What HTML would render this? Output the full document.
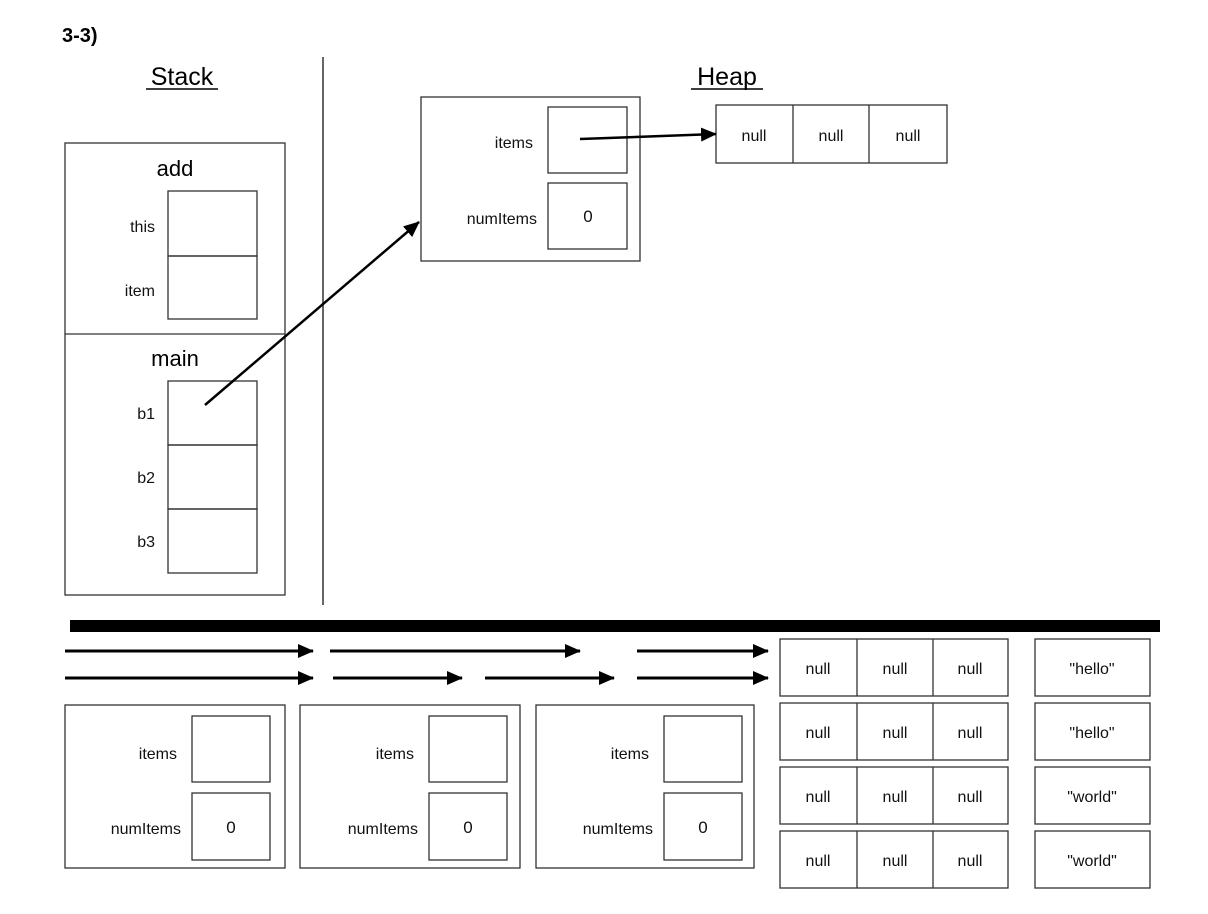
<!DOCTYPE html>
<html><head><style>body{margin:0;background:#fff}svg{display:block}</style></head><body>
<svg width="1208" height="914" xmlns="http://www.w3.org/2000/svg" font-family="Liberation Sans, Arial, sans-serif">
<defs>
<marker id="b" markerWidth="16" markerHeight="14" refX="15" refY="7" orient="auto" markerUnits="userSpaceOnUse"><path d="M0,0 L16,7 L0,14 z" fill="#000"/></marker></defs>
<text x="62" y="42" font-size="20" font-weight="bold">3-3)</text>
<text x="182" y="85" font-size="25" text-anchor="middle">Stack</text>
<line x1="146" y1="89" x2="218" y2="89" stroke="#000" stroke-width="1.5"/>
<text x="727" y="85" font-size="25" text-anchor="middle">Heap</text>
<line x1="691" y1="89" x2="763" y2="89" stroke="#000" stroke-width="1.5"/>
<line x1="323" y1="57" x2="323" y2="605" stroke="#333" stroke-width="1.5"/>
<g fill="none" stroke="#333" stroke-width="1.3">
<rect x="65" y="143" width="220" height="452"/><line x1="65" y1="334" x2="285" y2="334"/>
<rect x="168" y="191" width="89" height="65"/><rect x="168" y="256" width="89" height="63"/>
<rect x="168" y="381" width="89" height="64"/><rect x="168" y="445" width="89" height="64"/><rect x="168" y="509" width="89" height="64"/>
<rect x="421" y="97" width="219" height="164"/><rect x="548" y="107" width="79" height="66"/><rect x="548" y="183" width="79" height="66"/>
<rect x="716" y="105" width="231" height="58"/><line x1="793" y1="105" x2="793" y2="163"/><line x1="869" y1="105" x2="869" y2="163"/>
<rect x="65" y="705" width="220" height="163"/><rect x="192" y="716" width="78" height="66"/><rect x="192" y="793" width="78" height="67"/>
<rect x="300" y="705" width="220" height="163"/><rect x="429" y="716" width="78" height="66"/><rect x="429" y="793" width="78" height="67"/>
<rect x="536" y="705" width="218" height="163"/><rect x="664" y="716" width="78" height="66"/><rect x="664" y="793" width="78" height="67"/>
<rect x="780" y="639" width="228" height="57"/><rect x="780" y="703" width="228" height="57"/><rect x="780" y="767" width="228" height="57"/><rect x="780" y="831" width="228" height="57"/>
<line x1="857" y1="639" x2="857" y2="696"/><line x1="933" y1="639" x2="933" y2="696"/>
<line x1="857" y1="703" x2="857" y2="760"/><line x1="933" y1="703" x2="933" y2="760"/>
<line x1="857" y1="767" x2="857" y2="824"/><line x1="933" y1="767" x2="933" y2="824"/>
<line x1="857" y1="831" x2="857" y2="888"/><line x1="933" y1="831" x2="933" y2="888"/>
<rect x="1035" y="639" width="115" height="57"/><rect x="1035" y="703" width="115" height="57"/><rect x="1035" y="767" width="115" height="57"/><rect x="1035" y="831" width="115" height="57"/>
</g>
<g font-size="22" text-anchor="middle"><text x="175" y="176">add</text><text x="175" y="366">main</text></g>
<g font-size="16" text-anchor="end" fill="#111">
<text x="155" y="232">this</text><text x="155" y="296">item</text>
<text x="155" y="419">b1</text><text x="155" y="483">b2</text><text x="155" y="547">b3</text>
<text x="533" y="148">items</text><text x="537" y="224">numItems</text>
<text x="177" y="759">items</text><text x="181" y="834">numItems</text>
<text x="414" y="759">items</text><text x="418" y="834">numItems</text>
<text x="649" y="759">items</text><text x="653" y="834">numItems</text>
</g>
<g font-size="17" text-anchor="middle" fill="#111">
<text x="588" y="222">0</text><text x="231" y="833">0</text><text x="468" y="833">0</text><text x="703" y="833">0</text>
</g>
<g font-size="16" text-anchor="middle" fill="#111">
<text x="754" y="141">null</text><text x="831" y="141">null</text><text x="908" y="141">null</text>
<text x="818" y="674">null</text><text x="895" y="674">null</text><text x="970" y="674">null</text><text x="1092" y="674">"hello"</text>
<text x="818" y="738">null</text><text x="895" y="738">null</text><text x="970" y="738">null</text><text x="1092" y="738">"hello"</text>
<text x="818" y="802">null</text><text x="895" y="802">null</text><text x="970" y="802">null</text><text x="1092" y="802">"world"</text>
<text x="818" y="866">null</text><text x="895" y="866">null</text><text x="970" y="866">null</text><text x="1092" y="866">"world"</text>
</g>
<g stroke="#000" stroke-width="2.5">
<line x1="205" y1="405" x2="419" y2="222" marker-end="url(#b)"/>
<line x1="580" y1="139" x2="716" y2="134" marker-end="url(#b)"/>
</g>
<rect x="70" y="620" width="1090" height="12" fill="#000"/>
<g stroke="#000" stroke-width="3">
<line x1="65" y1="651" x2="313" y2="651" marker-end="url(#b)"/>
<line x1="330" y1="651" x2="580" y2="651" marker-end="url(#b)"/>
<line x1="637" y1="651" x2="768" y2="651" marker-end="url(#b)"/>
<line x1="65" y1="678" x2="313" y2="678" marker-end="url(#b)"/>
<line x1="333" y1="678" x2="462" y2="678" marker-end="url(#b)"/>
<line x1="485" y1="678" x2="614" y2="678" marker-end="url(#b)"/>
<line x1="637" y1="678" x2="768" y2="678" marker-end="url(#b)"/>
</g>
</svg>
</body></html>
